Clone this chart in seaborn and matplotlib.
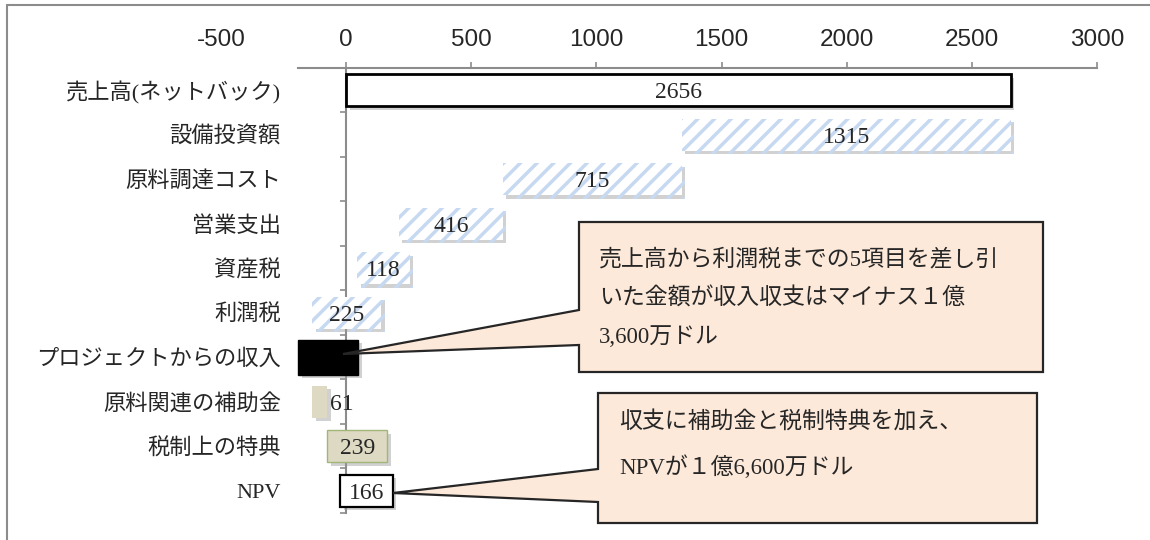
import matplotlib
matplotlib.use("Agg")
import matplotlib.pyplot as plt
import matplotlib.patheffects as pe
from matplotlib.patches import Polygon
from matplotlib.lines import Line2D
import seaborn as sns

# data (bar extents as drawn in the source chart)
categories = ['売上高(ネットバック)', '設備投資額', '原料調達コスト', '営業支出', '資産税',
              '利潤税', 'プロジェクトからの収入', '原料関連の補助金', '税制上の特典', 'NPV']
value_labels = ['2656', '1315', '715', '416', '118', '225', '', '61', '239', '166']
bar_start = [0, 1341, 626, 210, 44, -136, -191, -136, -75, -24]
bar_length = [2656, 1315, 715, 416, 211, 276, 239, 61, 239, 211]
bar_kind = ['total', 'cost', 'cost', 'cost', 'cost', 'cost', 'net', 'subsidy', 'tax', 'npv']
x_ticks = [-500, 0, 500, 1000, 1500, 2000, 2500, 3000]

note_top = '売上高から利潤税までの5項目を差し引\nいた金額が収入収支はマイナス１億\n3,600万ドル'
note_bottom = '収支に補助金と税制特典を加え、\nNPVが１億6,600万ドル'

sns.set_theme(style='white')
plt.rcParams['font.family'] = ['Liberation Sans', 'Noto Sans CJK JP']
plt.rcParams['hatch.linewidth'] = 2.5
serif_jp = ['Liberation Serif', 'Noto Sans CJK JP']

W, H = 1150, 540
fig = plt.figure(figsize=(W / 100, H / 100), dpi=100)


def fx(x):
    return x / W


def fy(y):
    return 1 - y / H


ax = fig.add_axes([fx(221), fy(513), (1097 - 221) / W, (513 - 68) / H])

styles = {
    'total': dict(color='white', edgecolor='black', linewidth=2),
    'cost': dict(color='white', edgecolor='#C6D9F1', hatch='//', linewidth=0),
    'net': dict(color='black', edgecolor='black', linewidth=1),
    'subsidy': dict(color='#DDD9C3', edgecolor='#DDD9C3', linewidth=0),
    'tax': dict(color='#DDD9C3', edgecolor='#A3B67A', linewidth=1.0),
    'npv': dict(color='white', edgecolor='black', linewidth=1.6),
}
shadow = [pe.SimplePatchShadow(offset=(2.5, -2.5), shadow_rgbFace='#9a9a9a', alpha=0.45), pe.Normal()]

rows = list(range(len(categories)))
for i in rows:
    kind = bar_kind[i]
    h = 0.78 if kind == 'net' else 0.72
    bars = ax.barh(i, bar_length[i], left=bar_start[i], height=h, zorder=3, **styles[kind])
    for b in bars:
        b.set_path_effects(shadow)
    if value_labels[i]:
        if kind == 'subsidy':
            ax.text(bar_start[i] + bar_length[i] + 10, i, value_labels[i], ha='left',
                    va='center_baseline', fontsize=17, family='Liberation Serif', zorder=5)
        else:
            ax.text(bar_start[i] + bar_length[i] / 2, i, value_labels[i], ha='center',
                    va='center_baseline', fontsize=17, family='Liberation Serif', zorder=5)

ax.set_xlim(-500, 3000)
ax.set_ylim(len(categories) - 0.5, -0.5)

# spines first (moving a spine resets its axis ticks)
for s in ['bottom', 'right']:
    ax.spines[s].set_visible(False)
ax.spines['left'].set_position(('data', 0))
ax.spines['top'].set_bounds(-192, 3000)
for s in ['left', 'top']:
    ax.spines[s].set_color('#8c8c8c')
    ax.spines[s].set_linewidth(1.5)
ax.grid(False)

# x axis on top
ax.xaxis.tick_top()
ax.set_xticks(x_ticks)
ax.tick_params(axis='x', which='major', top=True, bottom=False, length=4.5, width=1.2,
               color='#8c8c8c', pad=8, labelsize=17.5)
ax.set_xticklabels([str(t) for t in x_ticks])
ax.xaxis.get_major_ticks()[0].tick2line.set_visible(False)

# y axis: category labels, boundary ticks
ax.set_yticks(rows)
ax.set_yticks([r - 0.5 for r in rows] + [rows[-1] + 0.5], minor=True)
ax.tick_params(axis='y', which='major', left=True, length=0, pad=47, labelsize=16)
ax.tick_params(axis='y', which='minor', left=True, length=4.5, width=1.2, color='#8c8c8c')
ax.set_yticklabels(categories, fontsize=16, family=serif_jp)

# outer frame (top and left only visible)
fig.add_artist(Line2D([fx(7), fx(7)], [fy(5), 0], color='#8c8c8c', lw=1.5))
fig.add_artist(Line2D([fx(7), 1], [fy(5), fy(5)], color='#8c8c8c', lw=1.5))

# callouts
callout_fc = '#FDE9D9'
callout_ec = '#262626'
top_box = [(579, 222), (1043, 222), (1043, 372), (579, 372), (579, 345), (343, 354), (579, 310)]
bottom_box = [(598, 393), (1037, 393), (1037, 523), (598, 523), (598, 502), (393, 493), (598, 469)]
for pts in [top_box, bottom_box]:
    fig.add_artist(Polygon([(fx(x), fy(y)) for x, y in pts], closed=True, facecolor=callout_fc,
                           edgecolor=callout_ec, linewidth=1.6, zorder=6))

fig.text(fx(599), fy(249), note_top, ha='left', va='top', fontsize=16.5, family=serif_jp,
         linespacing=1.98, zorder=7)
fig.text(fx(619), fy(411), note_bottom, ha='left', va='top', fontsize=16.5, family=serif_jp,
         linespacing=2.2, zorder=7)

fig.savefig('out.png', dpi=100)
